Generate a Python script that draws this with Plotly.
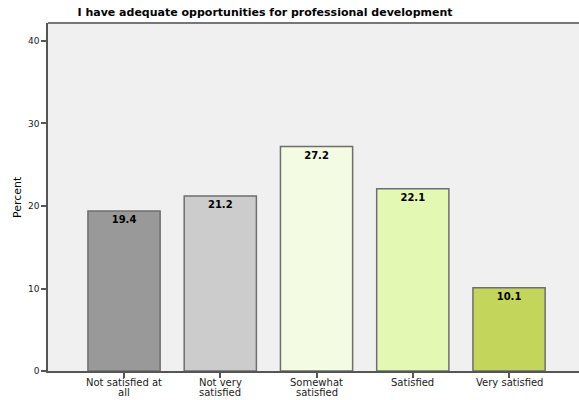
import plotly.graph_objects as go

categories_line1 = ["Not satisfied at", "Not very", "Somewhat", "Satisfied", "Very satisfied"]
categories_line2 = ["all", "satisfied", "satisfied", "", ""]
values = [19.4, 21.2, 27.2, 22.1, 10.1]
colors = ["#999999", "#cccccc", "#f3fbe3", "#e3f9b3", "#c3d55b"]
tick_vals = [0, 10, 20, 30, 40]

xs = list(range(len(values)))
fig = go.Figure(go.Bar(
    x=xs, y=values,
    marker=dict(color=colors, line=dict(color="#6e6e6e", width=1.5)),
    width=0.75,
    text=[f"{v:.1f}" for v in values], textposition="inside", insidetextanchor="end",
    textfont=dict(family="DejaVu Sans", size=10, color="#000000", weight="bold"),
    textangle=0, cliponaxis=False,
))
fig.update_layout(
    width=579, height=400,
    margin=dict(l=48, r=0, t=23, b=29),
    paper_bgcolor="white", plot_bgcolor="#f0f0f0",
    title=dict(text="<b>I have adequate opportunities for professional development</b>",
               xref="container", x=265/579, xanchor="center",
               yref="container", y=1-12.5/400, yanchor="middle",
               font=dict(family="DejaVu Sans", size=11, color="#000000")),
    font=dict(family="DejaVu Sans", size=10, color="#222222"),
    showlegend=False,
)
fig.update_xaxes(
    tickmode="array", tickvals=xs, showticklabels=False,
    range=[-0.79, 4.727], showgrid=False, zeroline=False, automargin=False,
    showline=True, linecolor="#555555", linewidth=1.5,
    ticks="outside", ticklen=5, tickcolor="#555555", tickwidth=1.5,
)
fig.update_yaxes(
    range=[0, 42.18], tickvals=tick_vals, showgrid=False, zeroline=False, automargin=False,
    showline=True, linecolor="#555555", linewidth=1.5, mirror=False,
    ticks="outside", ticklen=5, tickcolor="#555555", tickwidth=1.5,
    tickfont=dict(family="DejaVu Sans", size=9, color="#222222"),
)
fig.add_annotation(x=0, xref="paper", y=0.5, yref="paper", text="Percent", textangle=-90,
                   showarrow=False, xanchor="center", yanchor="middle", xshift=-31,
                   font=dict(family="DejaVu Sans", size=11, color="#000000"))
for x, t1, t2 in zip(xs, categories_line1, categories_line2):
    fig.add_annotation(x=x, xref="x", y=0, yref="paper", text=t1, showarrow=False,
                       yanchor="top", yshift=-5, borderpad=0,
                       font=dict(family="DejaVu Sans", size=10, color="#222222"))
    if t2:
        fig.add_annotation(x=x, xref="x", y=0, yref="paper", text=t2, showarrow=False,
                           yanchor="top", yshift=-15, borderpad=0,
                           font=dict(family="DejaVu Sans", size=10, color="#222222"))
fig.add_shape(type="line", xref="paper", yref="paper", x0=0, x1=1, y0=1, y1=1,
              line=dict(color="#777777", width=2))
fig.write_html("out.html", config={"displayModeBar": False},
               post_script="document.body.style.margin='0';")
